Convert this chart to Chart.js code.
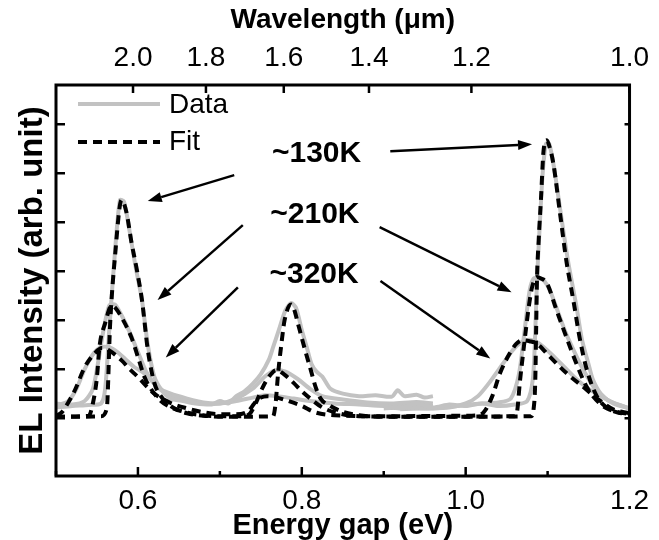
<!DOCTYPE html>
<html lang="en">
<head>
<meta charset="UTF-8">
<title>EL spectra</title>
<script src="https://cdn.jsdelivr.net/npm/chart.js"></script>
<style>
  body { margin: 0; background: #fff; }
  #wrap { width: 659px; height: 540px; }
</style>
</head>
<body>
<div id="wrap"><canvas id="elChart"></canvas></div>
<script>
// [energy gap (eV), EL intensity (arb. unit)]
// measured spectra: two detector ranges per temperature
const data130Low = [[0.50,0.22],[0.52,0.25],[0.54,0.27],[0.555,0.3],[0.56,0.6],[0.565,1.8],[0.572,3.4],[0.578,4.45],[0.583,4.42],[0.59,3.8],[0.597,3.1],[0.605,2.4],[0.612,1.5],[0.62,0.85],[0.63,0.55],[0.64,0.4],[0.655,0.35],[0.67,0.3],[0.69,0.28],[0.70,0.35],[0.71,0.3],[0.72,0.45],[0.73,0.55],[0.74,0.7],[0.75,0.9],[0.76,1.2],[0.765,1.45],[0.772,1.8],[0.78,2.2],[0.787,2.35],[0.793,2.25],[0.80,1.8],[0.806,1.45],[0.812,1.1],[0.818,0.95],[0.825,0.85],[0.835,0.6],[0.85,0.5],[0.87,0.45],[0.89,0.47],[0.91,0.44],[0.917,0.57],[0.925,0.45],[0.94,0.48],[0.95,0.42],[0.96,0.45]]
const data130High = [[0.90,0.25],[0.92,0.2],[0.94,0.3],[0.96,0.22],[0.98,0.28],[1.0,0.25],[1.02,0.3],[1.04,0.25],[1.06,0.28],[1.075,0.35],[1.082,0.8],[1.085,1.8],[1.087,2.8],[1.09,3.8],[1.094,5.0],[1.098,5.6],[1.102,5.6],[1.108,5.1],[1.115,4.3],[1.125,3.2],[1.135,2.3],[1.142,1.6],[1.15,1.1],[1.155,0.8],[1.165,0.5],[1.18,0.3],[1.2,0.2]]
const data210Low = [[0.50,0.3],[0.52,0.28],[0.535,0.35],[0.545,0.6],[0.552,1.2],[0.558,1.8],[0.565,2.3],[0.572,2.32],[0.58,2.1],[0.59,1.75],[0.6,1.35],[0.61,0.95],[0.62,0.7],[0.63,0.55],[0.64,0.45],[0.66,0.35],[0.68,0.3],[0.70,0.3],[0.72,0.4],[0.74,0.6],[0.755,0.85],[0.768,0.98],[0.78,0.95],[0.795,0.8],[0.81,0.6],[0.825,0.45],[0.85,0.38],[0.88,0.32],[0.91,0.3],[0.94,0.33],[0.96,0.3]]
const data210High = [[0.90,0.2],[0.93,0.22],[0.96,0.2],[0.99,0.25],[1.02,0.3],[1.04,0.32],[1.055,0.4],[1.065,0.9],[1.072,1.8],[1.078,2.6],[1.083,2.85],[1.09,2.85],[1.096,2.8],[1.103,2.6],[1.112,2.2],[1.122,1.75],[1.13,1.45],[1.14,1.1],[1.15,0.8],[1.16,0.55],[1.175,0.35],[1.2,0.2]]
const data320Low = [[0.50,0.25],[0.515,0.35],[0.525,0.6],[0.535,1.0],[0.545,1.3],[0.555,1.45],[0.565,1.45],[0.575,1.35],[0.585,1.2],[0.595,1.05],[0.605,0.95],[0.615,0.8],[0.625,0.62],[0.64,0.5],[0.66,0.4],[0.68,0.32],[0.70,0.3],[0.72,0.35],[0.74,0.42],[0.755,0.47],[0.77,0.45],[0.79,0.4],[0.81,0.35],[0.84,0.3],[0.87,0.28],[0.90,0.25],[0.93,0.28],[0.96,0.25]]
const data320High = [[0.92,0.18],[0.95,0.2],[0.98,0.22],[1.0,0.3],[1.015,0.45],[1.03,0.75],[1.045,1.1],[1.058,1.4],[1.068,1.55],[1.078,1.6],[1.09,1.52],[1.105,1.3],[1.12,1.05],[1.135,0.8],[1.15,0.6],[1.165,0.45],[1.18,0.32],[1.2,0.2]]

// fitted curves
const fit130 = [[0.50,0.03],[0.53,0.03],[0.555,0.04],[0.562,0.2],[0.566,1.9],[0.572,3.3],[0.58,4.45],[0.586,4.2],[0.592,3.6],[0.599,3.0],[0.605,2.4],[0.612,1.4],[0.620,0.72],[0.628,0.45],[0.636,0.3],[0.648,0.17],[0.660,0.1],[0.68,0.05],[0.72,0.03],[0.765,0.04],[0.768,0.3],[0.771,0.9],[0.775,1.5],[0.779,2.0],[0.787,2.32],[0.791,2.2],[0.795,1.95],[0.803,1.45],[0.811,0.98],[0.817,0.63],[0.823,0.4],[0.835,0.25],[0.85,0.13],[0.87,0.06],[0.9,0.03],[1.0,0.03],[1.08,0.04],[1.083,0.2],[1.085,0.8],[1.086,1.8],[1.087,2.8],[1.089,3.6],[1.092,4.5],[1.095,5.45],[1.099,5.67],[1.103,5.5],[1.107,5.2],[1.115,4.2],[1.123,3.2],[1.132,2.35],[1.139,1.65],[1.148,0.98],[1.16,0.45],[1.172,0.22],[1.185,0.12],[1.2,0.08]]
const fit210 = [[0.50,0.03],[0.54,0.05],[0.545,0.3],[0.55,0.84],[0.553,1.45],[0.56,1.94],[0.568,2.3],[0.574,2.22],[0.58,2.06],[0.592,1.65],[0.6,1.25],[0.608,0.84],[0.617,0.57],[0.628,0.35],[0.64,0.22],[0.652,0.15],[0.67,0.08],[0.7,0.04],[0.73,0.04],[0.737,0.1],[0.745,0.35],[0.752,0.62],[0.76,0.85],[0.769,0.98],[0.778,0.9],[0.79,0.72],[0.80,0.55],[0.812,0.38],[0.825,0.22],[0.845,0.1],[0.87,0.04],[0.95,0.03],[1.06,0.04],[1.063,0.16],[1.066,0.71],[1.071,1.45],[1.077,2.27],[1.081,2.67],[1.087,2.88],[1.092,2.85],[1.099,2.76],[1.111,2.2],[1.123,1.65],[1.135,1.12],[1.148,0.63],[1.163,0.31],[1.175,0.18],[1.2,0.08]]
const fit320 = [[0.50,0.05],[0.507,0.12],[0.515,0.32],[0.523,0.57],[0.535,1.04],[0.547,1.32],[0.556,1.43],[0.565,1.38],[0.58,1.18],[0.59,1.0],[0.6,0.84],[0.61,0.66],[0.62,0.5],[0.64,0.31],[0.66,0.2],[0.68,0.12],[0.70,0.08],[0.72,0.08],[0.735,0.15],[0.742,0.3],[0.75,0.42],[0.758,0.45],[0.77,0.42],[0.78,0.37],[0.80,0.25],[0.816,0.12],[0.84,0.06],[0.9,0.04],[1.0,0.05],[1.015,0.06],[1.022,0.12],[1.032,0.43],[1.042,0.92],[1.054,1.33],[1.062,1.52],[1.069,1.59],[1.078,1.57],[1.087,1.52],[1.103,1.25],[1.123,0.92],[1.144,0.63],[1.163,0.37],[1.18,0.18],[1.2,0.1]]

// axes
const xMajor = [0.6, 0.8, 1.0, 1.2]
const xMinor = [0.5, 0.7, 0.9, 1.1]
const waveLabels = ['2.0', '1.8', '1.6', '1.4', '1.2', '1.0']
const wavePos = [0.594, 0.683, 0.778, 0.882, 1.007, 1.2]   // eV position of each wavelength tick
const yTicks = [0, 1, 2, 3, 4, 5, 6]

// temperature labels and arrows (data units)
const tempLabels = ['~130K', '~210K', '~320K']
const tempLabelPos = [[0.818, 5.39], [0.816, 4.16], [0.815, 2.92]]
const arrows = [
  [[0.7175, 4.96], [0.612, 4.43]], [[0.908, 5.45], [1.081, 5.59]],
  [[0.728, 3.94], [0.624, 2.41]], [[0.895, 3.90], [1.056, 2.57]],
  [[0.722, 2.67], [0.634, 1.24]], [[0.896, 2.80], [1.03, 1.22]]
]

const FONT = "'Liberation Sans', Arial, sans-serif"
const GRAY = '#c2c2c2'

function pts(arr) { return arr.map(p => ({x: p[0], y: p[1]})) }

function grayLine(arr) {
  return { label: 'Data', data: pts(arr), borderColor: GRAY, borderWidth: 4, pointRadius: 0, tension: 0.25, order: 2 }
}
function fitLine(arr) {
  return { label: 'Fit', data: pts(arr), borderColor: '#000', borderWidth: 4, borderDash: [9, 6], pointRadius: 0, cubicInterpolationMode: 'monotone', order: 1 }
}

function arrow(ctx, x1, y1, x2, y2) {
  const ang = Math.atan2(y2 - y1, x2 - x1)
  const hl = 14, hw = 5
  const bx = x2 - hl * Math.cos(ang), by = y2 - hl * Math.sin(ang)
  ctx.beginPath()
  ctx.moveTo(x1, y1); ctx.lineTo(bx, by)
  ctx.stroke()
  ctx.beginPath()
  ctx.moveTo(x2, y2)
  ctx.lineTo(bx + hw * Math.sin(ang), by - hw * Math.cos(ang))
  ctx.lineTo(bx - hw * Math.sin(ang), by + hw * Math.cos(ang))
  ctx.closePath()
  ctx.fill()
}

// frame, inward ticks, legend, arrows and temperature labels
const decor = {
  id: 'decor',
  afterDatasetsDraw(chart) {
    const {ctx, chartArea: a, scales} = chart
    const x = scales.x, y = scales.y
    ctx.save()
    ctx.strokeStyle = '#000'
    ctx.fillStyle = '#000'
    ctx.lineWidth = 3
    ctx.setLineDash([])
    ctx.strokeRect(a.left, a.top, a.right - a.left, a.bottom - a.top)

    ctx.lineWidth = 2.5
    ctx.beginPath()
    xMajor.forEach(v => { const px = x.getPixelForValue(v); ctx.moveTo(px, a.bottom); ctx.lineTo(px, a.bottom - 9) })
    xMinor.forEach(v => { const px = x.getPixelForValue(v); ctx.moveTo(px, a.bottom); ctx.lineTo(px, a.bottom - 5) })
    wavePos.forEach(v => { const px = x.getPixelForValue(v); ctx.moveTo(px, a.top); ctx.lineTo(px, a.top + 8) })
    yTicks.forEach(v => {
      const py = y.getPixelForValue(v)
      ctx.moveTo(a.left, py); ctx.lineTo(a.left + 9, py)
      ctx.moveTo(a.right, py); ctx.lineTo(a.right - 5, py)
    })
    ctx.stroke()

    // legend
    const ds = chart.data.datasets
    const gray = ds.find(d => d.label === 'Data'), fit = ds.find(d => d.label === 'Fit')
    const lx = a.left + 22
    ctx.font = '28px ' + FONT
    ctx.textBaseline = 'middle'
    ctx.textAlign = 'left'
    ctx.lineWidth = gray.borderWidth
    ctx.strokeStyle = gray.borderColor
    ctx.beginPath(); ctx.moveTo(lx, a.top + 19); ctx.lineTo(lx + 82, a.top + 19); ctx.stroke()
    ctx.fillText('Data', lx + 91, a.top + 20)
    ctx.strokeStyle = fit.borderColor
    ctx.setLineDash(fit.borderDash)
    ctx.beginPath(); ctx.moveTo(lx, a.top + 57); ctx.lineTo(lx + 82, a.top + 57); ctx.stroke()
    ctx.setLineDash([])
    ctx.fillText('Fit', lx + 91, a.top + 57)

    // arrows
    ctx.strokeStyle = '#000'
    ctx.lineWidth = 2.5
    arrows.forEach(([p, q]) => {
      arrow(ctx, x.getPixelForValue(p[0]), y.getPixelForValue(p[1]), x.getPixelForValue(q[0]), y.getPixelForValue(q[1]))
    })

    // temperature labels
    ctx.font = 'bold 30px ' + FONT
    ctx.textAlign = 'center'
    tempLabels.forEach((t, i) => {
      ctx.fillText(t, x.getPixelForValue(tempLabelPos[i][0]), y.getPixelForValue(tempLabelPos[i][1]))
    })
    ctx.restore()
  }
}

const datasets = [
  fitLine(fit130), fitLine(fit210), fitLine(fit320),
  grayLine(data130Low), grayLine(data130High),
  grayLine(data210Low), grayLine(data210High),
  grayLine(data320Low), grayLine(data320High)
]

const tickFont = { family: FONT, size: 28 }
const titleFont = { family: FONT, size: 29, weight: 'bold', lineHeight: 1 }

const config = {
  type: 'line',
  data: { datasets: datasets },
  options: {
    responsive: true,
    maintainAspectRatio: false,
    animation: false,
    layout: { padding: 0 },
    plugins: { legend: { display: false }, tooltip: { enabled: false } },
    scales: {
      x: {
        type: 'linear', position: 'bottom', min: 0.5, max: 1.2,
        afterBuildTicks: s => { s.ticks = xMajor.map(v => ({value: v})) },
        afterFit: s => { s.height = 64 },
        grid: { display: false, drawTicks: false },
        border: { display: false },
        ticks: { font: tickFont, color: '#000', padding: 8, maxRotation: 0, autoSkip: false, callback: v => v.toFixed(1) },
        title: { display: true, text: 'Energy gap (eV)', font: titleFont, color: '#000', padding: { top: 0, bottom: 0 } }
      },
      x2: {
        type: 'linear', position: 'top', min: 0.5, max: 1.2,
        afterBuildTicks: s => { s.ticks = wavePos.map(v => ({value: v})) },
        afterFit: s => { s.height = 85 },
        grid: { display: false, drawTicks: false },
        border: { display: false },
        ticks: { font: tickFont, color: '#000', padding: 10, maxRotation: 0, autoSkip: false, callback: (v, i) => waveLabels[i] },
        title: { display: true, text: 'Wavelength (\u03bcm)', font: { family: FONT, size: 28, weight: 'bold', lineHeight: 1 }, color: '#000', padding: { top: 6, bottom: 0 } }
      },
      y: {
        type: 'linear', position: 'left', min: -1.18, max: 6.8,
        afterFit: s => { s.width = 56 },
        grid: { display: false, drawTicks: false },
        border: { display: false },
        ticks: { display: false },
        title: { display: true, text: 'EL Intensity (arb. unit)', font: { family: FONT, size: 33, weight: 'bold', lineHeight: 1 }, color: '#000', padding: { top: 16, bottom: 0 } }
      },
      y2: {
        type: 'linear', position: 'right', min: -1.18, max: 6.8,
        afterFit: s => { s.width = 27 },
        grid: { display: false, drawTicks: false },
        border: { display: false },
        ticks: { display: false }
      }
    }
  },
  plugins: [decor]
}

const elChart = new Chart(document.getElementById('elChart'), config)
</script>
</body>
</html>
